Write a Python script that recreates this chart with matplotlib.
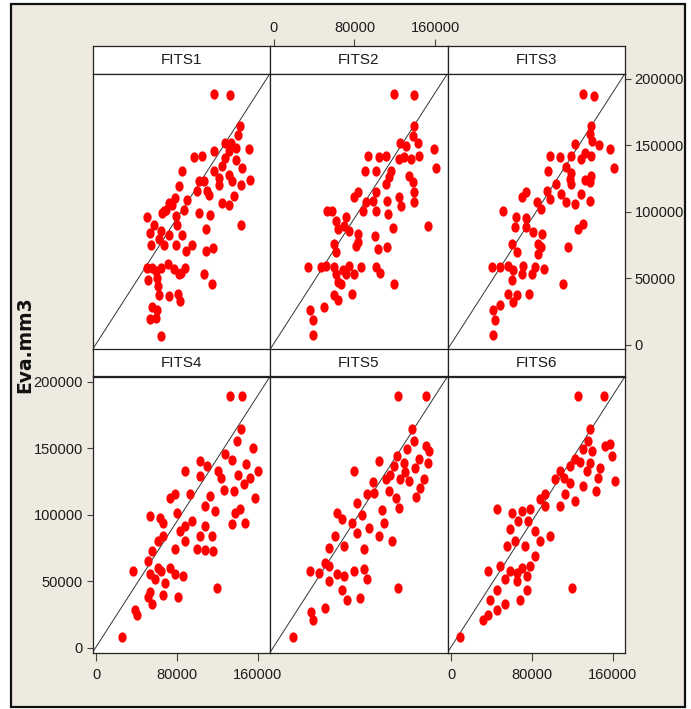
import numpy as np
import matplotlib
matplotlib.use("Agg")
import matplotlib.pyplot as plt
from matplotlib.patches import Rectangle

plt.rcParams['font.family'] = ['DejaVu Sans Condensed', 'Liberation Sans', 'DejaVu Sans']
plt.rcParams['font.stretch'] = 'condensed'

# ---------------- data (values in thousands of mm3) ----------------
panel_titles = ["FITS1", "FITS2", "FITS3", "FITS4", "FITS5", "FITS6"]
y_label = "Eva.mm3"
x_ticks = [0, 80000, 160000]
x_tick_labels = ["0", "80000", "160000"]
y_ticks = [0, 50000, 100000, 150000, 200000]
y_tick_labels = ["0", "50000", "100000", "150000", "200000"]

fits1_pts = [
    (116.5, 188.5), (132.9, 187.5), (142.8, 164.2), (140.5, 157.5), (151, 147), (128, 152), (133, 152), (131, 145.5), (128, 140.5), (138, 139),
    (144.5, 133), (152.7, 124.3), (143.8, 120), (134.6, 123), (131.3, 128), (121.4, 125.5), (116.5, 130.5), (116.5, 145.5), (105, 141.8), (96.7, 141),
    (106.6, 123), (101.7, 123), (110, 115.5), (111.5, 113), (100, 115.5), (84.6, 130.5), (82, 119.3), (78, 110.5), (72, 106.8), (67, 100.5),
    (64.8, 99), (50.7, 96.3), (57.3, 90), (53, 84.3), (63.8, 85.5), (62, 79.3), (54, 75.5), (67, 75.5), (72, 83), (79.3, 96.8),
    (80.3, 90.5), (85.2, 83), (78.6, 75.5), (88.5, 70.5), (94.4, 75.5), (90.2, 109.3), (86.9, 101.8), (101.7, 99.3), (113, 98), (108.3, 86.8),
    (108.3, 70.5), (115.5, 73), (124.7, 106.8), (131.3, 105.5), (136.2, 111.8), (143.8, 90), (106.6, 53.5), (114.8, 45.5), (50.7, 58), (55.6, 58),
    (59, 55.5), (63.8, 58), (71.4, 60.5), (77, 56.8), (83.6, 54.3), (87.9, 58), (82, 53), (51.7, 48.5), (60.5, 50.5), (61.5, 44.3),
    (62.2, 37.5), (72, 36.8), (81.3, 38), (82.6, 33), (55.6, 28.5), (60.5, 26), (53, 19.3), (59.5, 20.5), (63.8, 6.8), (124.7, 134.3),
    (121.4, 120.5), (138, 148), (75.4, 105.5), (69.4, 101.8),
]
fits2_pts = [
    (119.4, 188.8), (139.1, 187.8), (139.1, 164.6), (137.5, 157.1), (142.4, 152.1), (125.3, 151.4), (130.9, 149.6), (158.9, 147.1), (144, 142.1), (135.8, 139.6),
    (129.2, 140.9), (124.3, 139.6), (111.2, 142.1), (104.6, 140.9), (93.1, 142.1), (160.5, 132.9), (90.8, 130.9), (101.3, 130.4), (116.1, 130.9), (114.4, 125.9),
    (111.2, 120.9), (134.2, 127.2), (137.5, 122.2), (139.1, 114.7), (139.1, 107.2), (124.3, 110.9), (125.9, 104.7), (111.8, 107.9), (101.3, 114.7), (98, 108.4),
    (91.4, 107.2), (83.2, 114.7), (79.9, 110.9), (88.1, 100.9), (101.3, 100.9), (112.8, 98.4), (117.7, 87.9), (152.3, 89.7), (52.6, 100.4), (57.9, 100.9),
    (61.8, 93.4), (71.7, 95.9), (70, 89.7), (63.4, 87.2), (75, 85.9), (83.2, 83.4), (100.6, 82.2), (60.2, 75.9), (61.8, 69.7), (81.5, 74.7),
    (83.2, 77.2), (102.9, 72.2), (111.8, 73.9), (33.8, 58.5), (47, 58.5), (52, 59.7), (60.2, 58.5), (61.8, 53.5), (68.4, 56), (75, 59.7),
    (79.9, 53.5), (86.5, 58.5), (101.3, 58.5), (105.2, 54), (119.4, 46), (63.4, 47.2), (60.2, 37.3), (63.4, 33.5), (77.6, 38.5), (50.3, 28.5),
    (36.1, 26.5), (38.8, 19), (38.8, 7.3), (71.7, 53.5), (66.7, 46),
]
fits3_pts = [
    (130.6, 188.8), (141.1, 187.1), (138.8, 164.6), (137.1, 158.4), (139.8, 153.4), (146.4, 150.4), (122.3, 150.9), (132.2, 144.6), (138.8, 142.1), (128.9, 139.6),
    (156.9, 147.1), (161.2, 132.9), (97.7, 142.1), (107.5, 140.9), (119, 142.1), (114.1, 133.4), (96, 130.9), (119, 129.6), (117.4, 124.6), (132.2, 123.9),
    (138.8, 127.2), (137.1, 122.2), (119, 120.9), (103.6, 120.9), (94.4, 115.4), (109.2, 113.4), (97.7, 109.7), (74.6, 114.7), (69.7, 110.9), (84.5, 107.2),
    (89.4, 102.2), (114.1, 107.2), (122.3, 105.9), (128.9, 113.4), (137.1, 108.4), (51.6, 100.9), (64.1, 95.9), (74, 95.4), (63.1, 88.4), (74.6, 88.4),
    (81.2, 84.7), (90.4, 83.4), (130.6, 90.9), (125.6, 87.2), (59.8, 75.9), (64.8, 69.7), (86.1, 75.9), (89.4, 73.4), (86.1, 68.4), (115.8, 73.4),
    (40.1, 58.5), (48.3, 58.5), (56.5, 59.7), (61.5, 56), (71.3, 59.7), (69.7, 53.5), (82.9, 58.5), (79.6, 53.5), (91.7, 57.2), (110.8, 46),
    (59.8, 48.5), (56.5, 38.5), (64.8, 37.3), (61.5, 32.3), (77.3, 38.5), (48.3, 29.8), (41.1, 26), (43.4, 19), (41.7, 7.3),
]
fits4_pts = [
    (132.4, 189.3), (144.2, 189.3), (143.3, 164.6), (139.3, 155.4), (155, 150), (160, 133), (120.5, 133), (102.8, 140.5), (109.7, 137), (88, 133),
    (92.9, 115.8), (112.6, 114.3), (126.5, 118.7), (136.3, 118), (146, 123), (152, 127.7), (157, 112.8), (107.7, 106.9), (117.6, 103.1), (137.3, 101.6),
    (142.3, 104.6), (134.4, 93.4), (147.2, 94.1), (102.8, 129.3), (73.1, 112.8), (78, 115.8), (94.8, 95.6), (83, 88), (63.2, 98), (87.9, 80.7),
    (102.8, 84.5), (107.7, 92), (114.6, 84.5), (107.7, 73.9), (115.6, 73.1), (53.4, 99.4), (66.2, 94.1), (66.2, 84.5), (61.2, 80.7), (55.3, 73.1),
    (78, 74.6), (87.9, 91.9), (80, 101.6), (51.4, 65.6), (61.2, 60.4), (36.6, 58.2), (53.4, 55.9), (58.3, 52.2), (64.2, 58.2), (73.1, 60.4),
    (78, 55.9), (68.2, 48.5), (86, 54.4), (81, 38), (99.8, 74.6), (119.5, 45.4), (53.4, 41.7), (55.3, 32.7), (51.4, 38), (66.2, 39.5),
    (38.5, 28.3), (40.5, 24.5), (25.7, 8), (128, 146), (134, 141), (148, 138), (124, 128), (140, 130),
]
fits5_pts = [
    (123.5, 189.3), (151.2, 189.3), (137.3, 164.6), (139.3, 155.4), (132.4, 149.5), (151.2, 151.7), (154.2, 148), (122.5, 144.2), (129.4, 139), (144.2, 142),
    (153.1, 139), (119.5, 136.7), (104.7, 140.5), (80, 133), (111.6, 127), (125.5, 127), (134.4, 125.5), (149.2, 127), (141.3, 113.6), (121.5, 112.8),
    (114.6, 118), (99.8, 116.6), (92.9, 115.8), (82.1, 109.1), (107.7, 103.8), (124.5, 105.3), (63.2, 101.6), (67.2, 97.1), (77.1, 94.1), (82.1, 86.6),
    (94.8, 90.4), (104.7, 84.5), (89.9, 74.6), (70.1, 76.8), (55.3, 75.4), (60.3, 84.5), (87, 99.8), (109.7, 94.1), (117.6, 80.7), (35.6, 58.2),
    (45.4, 56.7), (55.3, 61.9), (63.2, 55.9), (55.3, 50.7), (70.1, 54.4), (80, 58.2), (89.9, 59.7), (92.9, 52.2), (67.2, 43.2), (73.1, 35.7),
    (85, 37.2), (123.5, 45.4), (50.4, 29.8), (37.5, 26.8), (39.5, 20.8), (18.8, 8), (50.4, 64.2), (140, 135), (145, 120), (130, 132),
    (115, 130), (98, 125),
]
fits6_pts = [
    (125.5, 189.3), (151.2, 189.3), (137.3, 164.6), (135.4, 155.4), (139.3, 148), (152.2, 151.7), (157.1, 153.2), (159.1, 144.2), (130.4, 149.5), (122.5, 142),
    (117.6, 136.7), (137.3, 139), (147.2, 135.2), (162, 125.5), (134.4, 133), (107.7, 133), (102.8, 127), (117.6, 124), (130.4, 121.8), (143.3, 118),
    (112.6, 115.8), (92.9, 115.8), (87.9, 112.1), (78, 104.6), (92.9, 106.9), (107.7, 106.9), (122.5, 110.6), (70.1, 103.1), (45.4, 104.6), (60.3, 101.6),
    (66.2, 95.6), (76.1, 95.6), (83, 88.1), (87.9, 80.7), (97.8, 84.5), (58.3, 89.6), (63.2, 80.7), (73.1, 76.9), (55.3, 76.9), (48.4, 61.9),
    (58.3, 58.2), (65.2, 56.7), (70.1, 60.4), (75.1, 54.4), (65.2, 50.7), (78, 61.9), (36.6, 58.2), (53.4, 52.2), (45.4, 43.2), (53.4, 33.4),
    (68.2, 35.7), (75.1, 43.2), (45.4, 28.3), (36.6, 24.5), (31.6, 20.8), (119.5, 45.4), (8.9, 8), (83, 69.3), (38.5, 35.7), (145, 128),
    (128, 140), (112, 128),
]
panel_points = [fits1_pts, fits2_pts, fits3_pts, fits4_pts, fits5_pts, fits6_pts]

# ---------------- layout ----------------
W, H = 691, 709
fig = plt.figure(figsize=(W / 100, H / 100), dpi=100)
fig.patch.set_facecolor('white')

def fx(px):
    return px / W

def fy(py):
    return 1 - py / H

BG = '#EEEAE0'
frame = Rectangle((fx(11), fy(707)), fx(685) - fx(11), fy(4) - fy(707),
                  transform=fig.transFigure, facecolor=BG,
                  edgecolor='#111111', linewidth=1.6, zorder=-10)
fig.patches.append(frame)

col_left = [92.5, 270.0, 447.5]
col_w = 177.5
strip_top = [46.5, 349.5]
strip_h = 27.0
panel_h = 276.0

XLIM = (-3500, 172000)
YLIM = (-3400, 204000)
EDGE = '#222222'
TXT = '#1c1c1c'
TICK_FS = 10.5

# elliptical marker (slightly taller than wide)
t = np.linspace(0, 2 * np.pi, 40)
ell = list(zip(0.8 * np.cos(t), np.sin(t)))

for i, pts in enumerate(panel_points):
    r, c = divmod(i, 3)
    l = col_left[c]
    st = strip_top[r]
    # strip
    sax = fig.add_axes([fx(l), fy(st + strip_h), col_w / W, strip_h / H])
    sax.set_facecolor('white')
    sax.set_xlim(XLIM)
    sax.set_ylim(0, 1)
    sax.set_yticks([])
    sax.text(0.5, 0.5, panel_titles[i], transform=sax.transAxes, ha='center',
             va='center', fontsize=11, color=TXT)
    for sp in sax.spines.values():
        sp.set_color(EDGE)
        sp.set_linewidth(0.9)
    if r == 0 and c == 1:
        sax.xaxis.tick_top()
        sax.set_xticks(x_ticks)
        sax.set_xticklabels(x_tick_labels)
        sax.tick_params(axis='x', direction='out', length=5, width=0.8,
                        color='#444444', pad=3, labelsize=TICK_FS, labelcolor=TXT)
    else:
        sax.set_xticks([])

    # panel
    ax = fig.add_axes([fx(l), fy(st + strip_h + panel_h), col_w / W, panel_h / H])
    ax.set_facecolor('white')
    ax.set_xlim(XLIM)
    ax.set_ylim(YLIM)
    for sp in ax.spines.values():
        sp.set_color(EDGE)
        sp.set_linewidth(0.9)
    ax.plot([0, 1], [0, 1], transform=ax.transAxes, color='#333333', lw=0.7, zorder=2)
    xs = np.array([p[0] for p in pts]) * 1000
    ys = np.array([p[1] for p in pts]) * 1000
    ax.plot(xs, ys, linestyle='none', marker=ell, markersize=7.4, color='#FF0000',
            markeredgewidth=0, zorder=3, clip_on=False)

    if r == 1 and c in (0, 2):
        ax.set_xticks(x_ticks)
        ax.set_xticklabels(x_tick_labels)
        ax.tick_params(axis='x', direction='out', length=6, width=0.8,
                       color='#444444', pad=5, labelsize=TICK_FS, labelcolor=TXT)
    else:
        ax.set_xticks([])
    if r == 1 and c == 0:
        ax.set_yticks(y_ticks)
        ax.set_yticklabels(y_tick_labels)
        ax.tick_params(axis='y', direction='out', length=4, width=0.8,
                       color='#444444', pad=3, labelsize=TICK_FS, labelcolor=TXT)
    elif r == 0 and c == 2:
        ax.yaxis.tick_right()
        ax.set_yticks(y_ticks)
        ax.set_yticklabels(y_tick_labels)
        ax.tick_params(axis='y', direction='out', length=4, width=0.8,
                       color='#444444', pad=3, labelsize=TICK_FS, labelcolor=TXT)
    else:
        ax.set_yticks([])

fig.text(fx(24.5), fy(345), y_label, rotation=90, ha='center', va='center',
         fontsize=13.5, fontweight='bold', stretch='normal', color='#111111',
         family=['DejaVu Sans'])

fig.savefig('out.png', dpi=100, facecolor=fig.get_facecolor())
